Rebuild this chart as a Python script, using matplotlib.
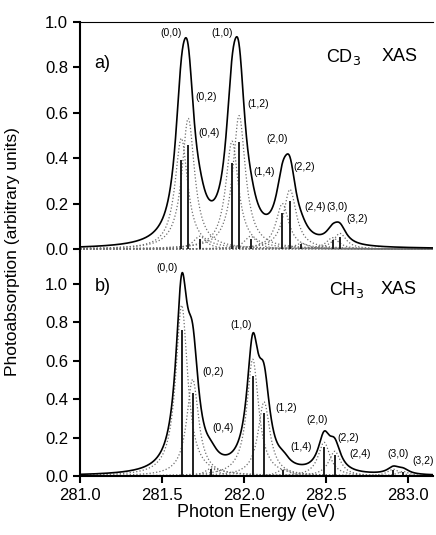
import matplotlib
matplotlib.use('Agg')
import matplotlib.pyplot as plt
import numpy as np

plt.rcParams['font.family'] = ['Liberation Sans', 'DejaVu Sans']

# ---- CD3 (panel a) stick spectrum ----
cd3_pos = [281.618, 281.66, 281.73, 281.927, 281.97, 282.04, 282.234, 282.28, 282.35, 282.54, 282.585]
cd3_h = [0.39, 0.46, 0.045, 0.38, 0.47, 0.045, 0.16, 0.21, 0.02, 0.04, 0.055]
cd3_gamma = 0.047
cd3_scale = 1.25

# ---- CH3 (panel b) stick spectrum ----
ch3_pos = [281.62, 281.687, 281.80, 282.053, 282.122, 282.24, 282.488, 282.553, 282.91, 282.97]
ch3_h = [0.76, 0.43, 0.035, 0.52, 0.33, 0.03, 0.15, 0.11, 0.03, 0.02]
ch3_gamma = 0.044
ch3_scale = 1.17

# peak labels (text, energy, height)
cd3_labels = ['(0,0)', '(1,0)', '(0,2)', '(0,4)', '(1,2)', '(1,4)', '(2,0)', '(2,2)', '(2,4)', '(3,0)', '(3,2)']
cd3_lx = [281.553, 281.864, 281.766, 281.789, 282.087, 282.124, 282.2, 282.366, 282.433, 282.565, 282.687]
cd3_ly = [0.953, 0.953, 0.668, 0.51, 0.64, 0.34, 0.483, 0.363, 0.186, 0.186, 0.132]

ch3_labels = ['(0,0)', '(1,0)', '(0,2)', '(0,4)', '(1,2)', '(2,0)', '(1,4)', '(2,2)', '(2,4)', '(3,0)', '(3,2)']
ch3_lx = [281.528, 281.98, 281.813, 281.87, 282.26, 282.447, 282.348, 282.636, 282.71, 282.937, 283.093]
ch3_ly = [1.085, 0.786, 0.543, 0.248, 0.352, 0.29, 0.153, 0.2, 0.113, 0.113, 0.08]

x = np.linspace(281.0, 283.2, 2000)


def lorentz(e0, amp, gamma):
    return amp / (1 + ((x - e0) / gamma) ** 2)


def draw_panel(ax, pos, h, gamma, scale, labels, lx, ly):
    total = np.zeros_like(x)
    for e0, a in zip(pos, h):
        comp = lorentz(e0, a * scale, gamma)
        total += comp
        ax.plot(x, comp, ls=':', color='#6e6e6e', lw=0.9)
    ax.vlines(pos, 0, h, color='#202020', lw=1.4)
    ax.plot(x, total, color='black', lw=1.2)
    for t, xx, yy in zip(labels, lx, ly):
        ax.text(xx, yy, t, fontsize=7.5, ha='center', va='center')


fig = plt.figure(figsize=(4.36, 5.35), dpi=100)
ax1 = fig.add_axes([0.1835, 0.529, 0.8096, 0.430])
ax2 = fig.add_axes([0.1835, 0.1103, 0.8096, 0.4187])

draw_panel(ax1, cd3_pos, cd3_h, cd3_gamma, cd3_scale, cd3_labels, cd3_lx, cd3_ly)
draw_panel(ax2, ch3_pos, ch3_h, ch3_gamma, ch3_scale, ch3_labels, ch3_lx, ch3_ly)

for ax in (ax1, ax2):
    ax.set_xlim(281.0, 283.152)
    ax.set_yticks(np.arange(0, 1.01, 0.2))
    ax.set_yticklabels(['%.1f' % v for v in np.arange(0, 1.01, 0.2)])
    ax.tick_params(axis='both', direction='out', length=5, width=1.5, labelsize=12)
    ax.spines['left'].set_linewidth(1.5)
    ax.spines['right'].set_visible(False)

ax1.set_ylim(-0.013, 1.0)
ax1.spines['bottom'].set_visible(False)
ax1.spines['top'].set_linewidth(0.8)
ax1.tick_params(axis='x', bottom=False, labelbottom=False)

ax2.set_ylim(0, 1.167)
ax2.spines['top'].set_visible(False)
ax2.spines['bottom'].set_linewidth(1.5)
ax2.set_xticks([281.0, 281.5, 282.0, 282.5, 283.0])
ax2.set_xticklabels(['281.0', '281.5', '282.0', '282.5', '283.0'])
ax2.set_xlabel('Photon Energy (eV)', fontsize=13, labelpad=1)

ax1.text(281.136, 0.815, 'a)', fontsize=13, ha='center', va='center')
ax1.text(282.5, 0.847, 'CD$_3$', fontsize=13, ha='left', va='center')
ax1.text(282.836, 0.847, 'XAS', fontsize=13, ha='left', va='center')
ax2.text(281.136, 0.986, 'b)', fontsize=13, ha='center', va='center')
ax2.text(282.52, 0.969, 'CH$_3$', fontsize=13, ha='left', va='center')
ax2.text(282.83, 0.969, 'XAS', fontsize=13, ha='left', va='center')

fig.text(0.028, 0.53, 'Photoabsorption (arbitrary units)', rotation=90, fontsize=12.5,
         ha='center', va='center')

fig.savefig('out.png', dpi=100)
